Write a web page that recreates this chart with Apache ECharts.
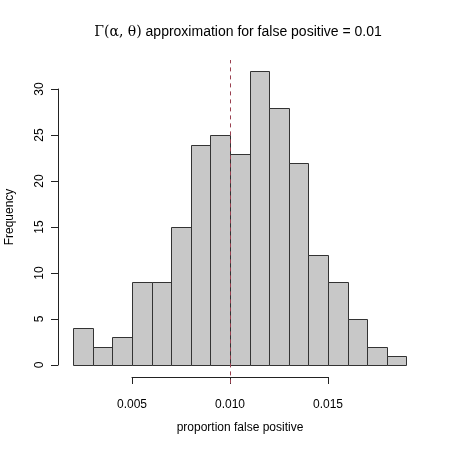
<!DOCTYPE html>
<html><head><meta charset="utf-8">
<script src="https://cdn.jsdelivr.net/npm/echarts@6/dist/echarts.min.js"></script>
<style>html,body{margin:0;padding:0;background:#fff}#c{width:450px;height:450px}</style>
</head><body><div id="c"></div>
<script>
const binStarts = [0.002,0.003,0.004,0.005,0.006,0.007,0.008,0.009,0.010,0.011,0.012,0.013,0.014,0.015,0.016,0.017,0.018];
const binWidth = 0.001;
const counts = [4,2,3,9,9,15,24,25,23,32,28,22,12,9,5,2,1];
const yTicks = [0,5,10,15,20,25,30];
const xTicks = [0.005,0.010,0.015];
const refLine = 0.01;

const chart = echarts.init(document.getElementById('c'));
const data = binStarts.map((s,i)=>[s, s+binWidth, counts[i]]);
const font = 'Liberation Sans, Arial, Helvetica, sans-serif';
chart.setOption({
  animation:false,
  backgroundColor:'#fff',
  title:{
    text:'{s|Γ(α, θ)} approximation for false positive = 0.01',
    left:233, top:20, textAlign:'center',
    textStyle:{fontFamily:font,fontSize:14,fontWeight:'normal',color:'#000',
      rich:{s:{fontFamily:'DejaVu Serif, Liberation Serif, serif',fontSize:14,color:'#000'}}}
  },
  graphic:[
    {type:'text',x:240,y:428,style:{text:'proportion false positive',font:'12px '+font,fill:'#000',align:'center',verticalAlign:'middle'}},
    {type:'text',x:10,y:217,rotation:Math.PI/2,style:{text:'Frequency',font:'12px '+font,fill:'#000',align:'center',verticalAlign:'middle'}}
  ],
  grid:[
    {left:73.2,right:43.6,top:60,bottom:450-383.4},
    {left:58,width:1,top:89,bottom:85},
    {left:132,width:196,top:300,bottom:73}
  ],
  xAxis:[
    {gridIndex:0,type:'value',min:0.002,max:0.019,show:false},
    {gridIndex:1,type:'value',min:0,max:1,show:false},
    {gridIndex:2,type:'value',min:0.005,max:0.015,interval:0.005,position:'bottom',
     axisLine:{show:true,lineStyle:{color:'#222',width:1}},
     axisTick:{show:true,inside:false,length:7,lineStyle:{color:'#222'}},
     splitLine:{show:false},
     axisLabel:{show:true,margin:22,color:'#000',fontSize:12,fontFamily:font,
       formatter:v=>v.toFixed(3)}}
  ],
  yAxis:[
    {gridIndex:0,type:'value',min:-2,max:33.2,show:false},
    {gridIndex:1,type:'value',min:0,max:30,interval:5,position:'left',
     axisLine:{show:true,lineStyle:{color:'#222',width:1}},
     axisTick:{show:true,inside:false,length:7,lineStyle:{color:'#222'}},
     splitLine:{show:false},
     axisLabel:{show:true,rotate:90,margin:12,color:'#000',fontSize:12,fontFamily:font}},
    {gridIndex:2,type:'value',min:0,max:1,show:false}
  ],
  series:[{
    type:'custom',xAxisIndex:0,yAxisIndex:0,
    data:data,
    renderItem:(params,api)=>{
      const p0 = api.coord([api.value(0), api.value(2)]);
      const p1 = api.coord([api.value(1), 0]);
      return {type:'rect',shape:{x:Math.round(p0[0])+0.5,y:Math.round(p0[1])+0.5,
        width:Math.round(p1[0])-Math.round(p0[0]),height:Math.round(p1[1])-Math.round(p0[1])},
        style:{fill:'#c8c8c8',stroke:'#333',lineWidth:1}};
    },
    markLine:{silent:true,symbol:'none',label:{show:false},
      lineStyle:{color:'#9a4050',type:[4,4],width:1},
      data:[{xAxis:refLine}]}
  }]
});
</script></body></html>
